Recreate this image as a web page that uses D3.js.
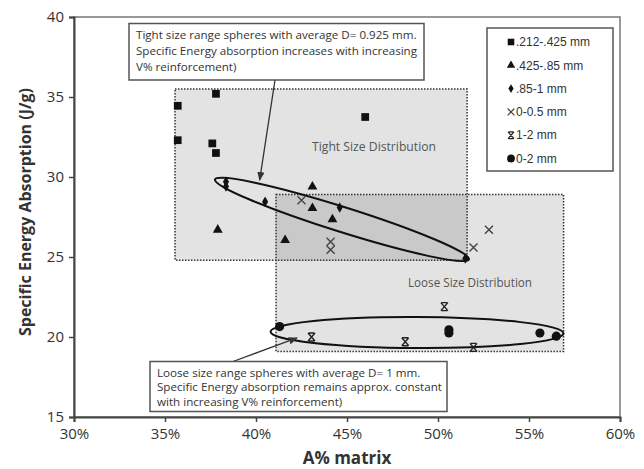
<!DOCTYPE html>
<html>
<head>
<meta charset="utf-8">
<script src="https://cdn.jsdelivr.net/npm/d3@7"></script>
<style>
body { margin: 0; background: #fff; }
svg { display: block; font-family: 'Open Sans', sans-serif; }
</style>
</head>
<body>
<svg></svg>
<script>
const width = 644;
const height = 469;

// axes
const xTicks = [30, 35, 40, 45, 50, 55, 60];
const yTicks = [15, 20, 25, 30, 35, 40];

// series
const seriesNames = ['.212-.425 mm', '.425-.85 mm', '.85-1 mm', '0-0.5 mm', '1-2 mm', '0-2 mm'];
const seriesShapes = ['square', 'triangle', 'diamond', 'cross', 'star', 'circle'];

const squareX = [35.7, 35.7, 37.6, 37.8, 37.8, 46.0];
const squareY = [34.45, 32.3, 32.1, 31.5, 35.2, 33.75];
const triangleX = [37.9, 43.1, 43.1, 44.2, 41.6];
const triangleY = [26.7, 29.4, 28.05, 27.35, 26.05];
const diamondX = [38.35, 38.35, 40.5, 44.6, 51.5];
const diamondY = [29.7, 29.4, 28.45, 28.1, 24.9];
const crossX = [42.5, 44.1, 44.1, 52.8, 51.95];
const crossY = [28.55, 25.95, 25.45, 26.7, 25.6];
const starX = [50.35, 43.05, 48.2, 51.95];
const starY = [21.9, 20.0, 19.7, 19.35];
const circleX = [41.3, 50.6, 50.6, 55.6, 56.5];
const circleY = [20.65, 20.45, 20.25, 20.25, 20.05];

const seriesX = [squareX, triangleX, diamondX, crossX, starX, circleX];
const seriesY = [squareY, triangleY, diamondY, crossY, starY, circleY];

// shaded regions [x0, x1, y0, y1]
const regionNames = ['Tight Size Distribution', 'Loose Size Distribution'];
const tightRegion = [35.55, 51.6, 24.8, 35.5];
const looseRegion = [41.1, 56.9, 19.1, 28.9];

// ellipses: two tips in data units
const tightTips = [[37.75, 29.85], [51.7, 24.85]];
const looseTips = [[40.8, 20.33], [56.9, 20.23]];

// annotation notes
const tightNote = ['Tight size range spheres with average D= 0.925 mm.',
	'Specific Energy absorption increases with increasing',
	'V% reinforcement)'];
const looseNote = ['Loose size range spheres with average D= 1 mm.',
	'Specific Energy absorption remains approx. constant',
	'with increasing V% reinforcement)'];
const tightArrowTip = [40.2, 29.8];
const looseArrowTip = [42.25, 19.94];

const svg = d3.select('svg')
	.attr('width', width)
	.attr('height', height);

const x = d3.scaleLinear().domain([30, 60]).range([74, 620]);
const y = d3.scaleLinear().domain([15, 40]).range([417, 17]);

const defs = svg.append('defs');
defs.append('marker')
	.attr('id', 'arrow')
	.attr('viewBox', '0 0 10 10')
	.attr('refX', 9).attr('refY', 5)
	.attr('markerWidth', 7).attr('markerHeight', 7)
	.attr('orient', 'auto')
	.append('path')
		.attr('d', 'M0,1L10,5L0,9Z')
		.attr('fill', '#333');

// plot frame (top / right)
svg.append('rect')
	.attr('x', x(30)).attr('y', y(40))
	.attr('width', x(60) - x(30)).attr('height', y(15) - y(40))
	.attr('fill', 'none')
	.attr('stroke', '#777')
	.attr('stroke-width', 1.5);

// shaded regions
const regions = [tightRegion, looseRegion];
svg.append('g').selectAll('rect').data(regions).enter().append('rect')
	.attr('x', d => x(d[0]))
	.attr('y', d => y(d[3]))
	.attr('width', d => x(d[1]) - x(d[0]))
	.attr('height', d => y(d[2]) - y(d[3]))
	.attr('fill', '#e3e3e3');

// overlap
const ov = [Math.max(tightRegion[0], looseRegion[0]), Math.min(tightRegion[1], looseRegion[1]),
	Math.max(tightRegion[2], looseRegion[2]), Math.min(tightRegion[3], looseRegion[3])];
svg.append('rect')
	.attr('x', x(ov[0])).attr('y', y(ov[3]))
	.attr('width', x(ov[1]) - x(ov[0]))
	.attr('height', y(ov[2]) - y(ov[3]))
	.attr('fill', '#c9c9c9');

svg.append('g').selectAll('rect').data(regions).enter().append('rect')
	.attr('x', d => x(d[0]))
	.attr('y', d => y(d[3]))
	.attr('width', d => x(d[1]) - x(d[0]))
	.attr('height', d => y(d[2]) - y(d[3]))
	.attr('fill', 'none')
	.attr('stroke', '#333')
	.attr('stroke-width', 1.5)
	.attr('stroke-dasharray', '1.5,1.5');

function fitLines(sel, maxW) {
	let widest = 0;
	sel.each(function() { widest = Math.max(widest, this.getComputedTextLength()); });
	const k = maxW / widest;
	sel.each(function() {
		d3.select(this)
			.attr('textLength', this.getComputedTextLength() * k)
			.attr('lengthAdjust', 'spacingAndGlyphs');
	});
}

// region labels
const regionLabelPos = [[312, 151], [408, 287]];
regionNames.forEach((name, i) => {
	svg.append('text')
		.attr('x', regionLabelPos[i][0])
		.attr('y', regionLabelPos[i][1])
		.attr('font-size', 12)
		.attr('fill', '#555')
		.text(name)
		.call(fitLines, 124);
});

// axes
const xAxis = d3.axisBottom(x)
	.tickValues(xTicks)
	.tickFormat(d => d + '%')
	.tickSize(5)
	.tickPadding(6);
const yAxis = d3.axisLeft(y)
	.tickValues(yTicks)
	.tickSize(5)
	.tickPadding(5);

// ellipses
function drawEllipse(tips, ry) {
	const p0 = [x(tips[0][0]), y(tips[0][1])];
	const p1 = [x(tips[1][0]), y(tips[1][1])];
	const cx = (p0[0] + p1[0]) / 2;
	const cy = (p0[1] + p1[1]) / 2;
	const rx = Math.hypot(p1[0] - p0[0], p1[1] - p0[1]) / 2;
	const ang = Math.atan2(p1[1] - p0[1], p1[0] - p0[0]) * 180 / Math.PI;
	svg.append('ellipse')
		.attr('cx', 0).attr('cy', 0)
		.attr('rx', rx).attr('ry', ry)
		.attr('transform', `translate(${cx},${cy}) rotate(${ang})`)
		.attr('fill', 'none')
		.attr('stroke', '#111')
		.attr('stroke-width', 2);
}
drawEllipse(tightTips, 12.5);
drawEllipse(looseTips, 15.5);

// markers
const symbolPaths = {
	square: d3.symbol(d3.symbolSquare, 60)(),
	triangle: d3.symbol(d3.symbolTriangle, 42)(),
	diamond: d3.symbol(d3.symbolDiamond, 32)(),
	circle: d3.symbol(d3.symbolCircle, 66)(),
	cross: 'M-4,-4L4,4M-4,4L4,-4',
	star: 'M-3.5,-4L3.5,4M-3.5,4L3.5,-4M-3,-4H3M-3,4H3'
};

function styleMarker(sel, shape) {
	if (shape === 'cross' || shape === 'star') {
		sel.attr('fill', 'none')
			.attr('stroke', shape === 'cross' ? '#444' : '#222')
			.attr('stroke-width', 1.4);
	} else {
		sel.attr('fill', '#111');
	}
}

seriesShapes.forEach((shape, s) => {
	const pts = seriesX[s].map((v, i) => [v, seriesY[s][i]]);
	svg.append('g').selectAll('path').data(pts).enter().append('path')
		.attr('d', symbolPaths[shape])
		.attr('transform', d => `translate(${x(d[0])},${y(d[1])})`)
		.call(styleMarker, shape);
});

// annotation boxes
function drawNote(lines, bx, by, bw, bh, fontSize, lineH, textW, stem, tip) {
	svg.append('line')
		.attr('x1', stem[0]).attr('y1', stem[1])
		.attr('x2', x(tip[0])).attr('y2', y(tip[1]))
		.attr('stroke', '#333')
		.attr('stroke-width', 1.3)
		.attr('marker-end', 'url(#arrow)');
	svg.append('rect')
		.attr('x', bx).attr('y', by)
		.attr('width', bw).attr('height', bh)
		.attr('fill', '#fff')
		.attr('stroke', '#555')
		.attr('stroke-width', 1.5);
	const t = svg.append('g').selectAll('text').data(lines).enter().append('text')
		.attr('x', bx + 7)
		.attr('y', (d, i) => by + 15 + i * lineH)
		.attr('font-size', fontSize)
		.attr('fill', '#333')
		.text(d => d);
	fitLines(t, textW);
}
drawNote(tightNote, 129, 23.5, 295, 56.5, 11.5, 16, 281, [275, 80], tightArrowTip);
drawNote(looseNote, 150, 361.5, 297, 50, 10.5, 14.5, 285, [233, 361.5], looseArrowTip);

const gx = svg.append('g')
	.attr('transform', `translate(0,${y(15)})`)
	.call(xAxis);
const gy = svg.append('g')
	.attr('transform', `translate(${x(30)},0)`)
	.call(yAxis);
[gx, gy].forEach(g => {
	g.select('.domain').attr('stroke', '#444').attr('stroke-width', 2);
	g.selectAll('.tick line').attr('stroke', '#444').attr('stroke-width', 1.5);
	g.selectAll('.tick text')
		.attr('font-family', "'Open Sans', sans-serif")
		.attr('font-size', 15)
		.attr('fill', '#333');
});

// axis titles
svg.append('text')
	.attr('x', 347).attr('y', 464)
	.attr('text-anchor', 'middle')
	.attr('font-size', 17)
	.attr('font-weight', 'bold')
	.attr('fill', '#333')
	.text('A% matrix');
svg.append('text')
	.attr('transform', 'translate(31,212) rotate(-90)')
	.attr('text-anchor', 'middle')
	.attr('font-size', 16)
	.attr('font-weight', 'bold')
	.attr('fill', '#333')
	.text('Specific Energy Absorption (J/g)');

// legend
const legend = svg.append('g').attr('transform', 'translate(487,28)');
legend.append('rect')
	.attr('width', 126).attr('height', 143)
	.attr('fill', '#fff')
	.attr('stroke', '#555')
	.attr('stroke-width', 1.5);
const items = legend.selectAll('g.item').data(seriesNames).enter().append('g')
	.attr('class', 'item')
	.attr('transform', (d, i) => `translate(24,${14 + i * 23.3})`);
items.append('path')
	.attr('d', (d, i) => symbolPaths[seriesShapes[i]])
	.attr('transform', 'scale(0.85)')
	.each(function(d, i) { d3.select(this).call(styleMarker, seriesShapes[i]); });
items.append('text')
	.attr('x', 5)
	.attr('dy', '0.35em')
	.attr('font-family', "'Liberation Sans', Arial, sans-serif")
	.attr('font-size', 12)
	.attr('fill', '#333')
	.text(d => d);
</script>
</body>
</html>
